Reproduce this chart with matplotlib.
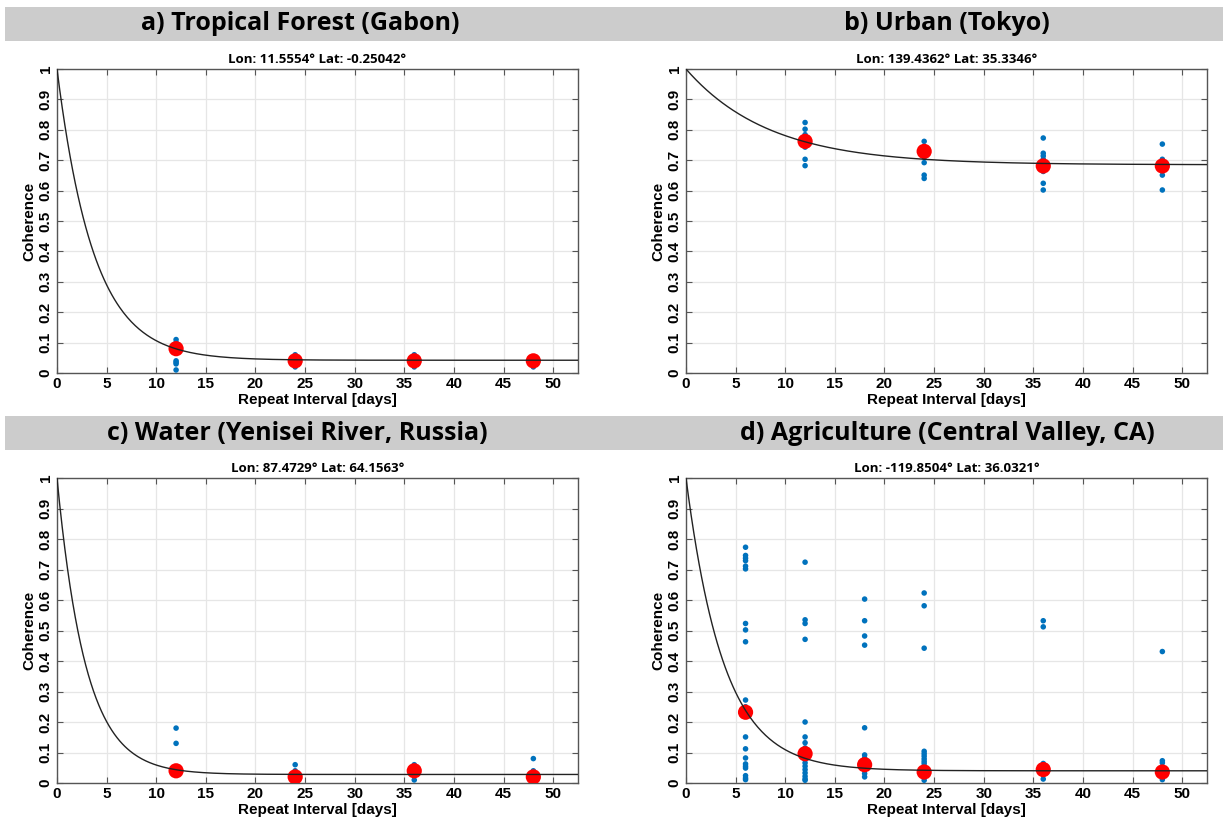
import numpy as np
import matplotlib
matplotlib.use("Agg")
import matplotlib.pyplot as plt
from matplotlib.patches import Rectangle

plt.rcParams['font.family'] = ['Liberation Sans', 'DejaVu Sans']

# panel titles and coordinates
titles = ["a) Tropical Forest (Gabon)", "b) Urban (Tokyo)",
          "c) Water (Yenisei River, Russia)", "d) Agriculture (Central Valley, CA)"]
subtitles = ["Lon: 11.5554\u00b0 Lat: -0.25042\u00b0", "Lon: 139.4362\u00b0 Lat: 35.3346\u00b0",
             "Lon: 87.4729\u00b0 Lat: 64.1563\u00b0", "Lon: -119.8504\u00b0 Lat: 36.0321\u00b0"]

# model fit parameters: long-term coherence and decay time (days)
gamma_inf = [0.042, 0.685, 0.028, 0.040]
tau = [3.7, 8.4, 2.9, 3.8]

# individual coherence samples (blue) per repeat interval
a_x = [12]*7 + [24]*5 + [36]*5 + [48]*4
a_y = [0.11, 0.10, 0.09, 0.04, 0.035, 0.03, 0.01,
       0.06, 0.05, 0.04, 0.03, 0.02,
       0.06, 0.05, 0.04, 0.03, 0.02,
       0.05, 0.04, 0.03, 0.02]
b_x = [12]*7 + [24]*5 + [36]*8 + [48]*5
b_y = [0.824, 0.802, 0.784, 0.743, 0.703, 0.682, 0.77,
       0.762, 0.692, 0.651, 0.640, 0.71,
       0.773, 0.723, 0.714, 0.703, 0.663, 0.624, 0.602, 0.69,
       0.753, 0.703, 0.651, 0.602, 0.67]
c_x = [12]*3 + [24]*4 + [36]*3 + [48]*4
c_y = [0.18, 0.13, 0.04,
       0.06, 0.04, 0.02, 0.01,
       0.06, 0.04, 0.01,
       0.08, 0.04, 0.02, 0.01]
d_x = [6]*20 + [12]*18 + [18]*11 + [24]*14 + [36]*6 + [48]*6
d_y = [0.773, 0.746, 0.737, 0.729, 0.711, 0.702, 0.523, 0.502, 0.463, 0.272,
       0.25, 0.151, 0.112, 0.082, 0.0625, 0.055, 0.049, 0.024, 0.016, 0.011,
       0.724, 0.535, 0.523, 0.471, 0.200, 0.151, 0.132, 0.115, 0.088, 0.077,
       0.066, 0.055, 0.044, 0.033, 0.022, 0.013, 0.009, 0.100,
       0.603, 0.532, 0.482, 0.452, 0.181, 0.092, 0.082, 0.070, 0.044, 0.031, 0.020,
       0.623, 0.581, 0.442, 0.104, 0.096, 0.088, 0.079, 0.071, 0.064, 0.055,
       0.044, 0.030, 0.022, 0.009,
       0.532, 0.512, 0.064, 0.050, 0.027, 0.013,
       0.431, 0.073, 0.066, 0.050, 0.022, 0.011]
samples_x = [a_x, b_x, c_x, d_x]
samples_y = [a_y, b_y, c_y, d_y]

# mean coherence (red) per interval
mean_x = [[12, 24, 36, 48], [12, 24, 36, 48], [12, 24, 36, 48], [6, 12, 18, 24, 36, 48]]
mean_y = [[0.08, 0.04, 0.04, 0.04],
          [0.762, 0.729, 0.681, 0.681],
          [0.04, 0.02, 0.04, 0.02],
          [0.232, 0.096, 0.060, 0.036, 0.044, 0.036]]

W, H = 1226, 826
fig = plt.figure(figsize=(W / 100, H / 100), dpi=100)

# grey banners behind the titles
for top in [7, 416]:
    fig.patches.append(Rectangle((5 / W, 1 - (top + 34) / H), 1218 / W, 34 / H,
                                 transform=fig.transFigure, facecolor="#cccccc",
                                 edgecolor="none", zorder=0))

lefts = [57, 686, 57, 686]
tops = [69, 69, 478, 478]
bottoms = [373, 373, 783, 783]
title_cx = [300, 947, 297, 947]
banner_cy = [24, 24, 433, 433]

blue = "#0072BD"
grid_col = "#e6e6e6"
spine_col = "#555555"

for i in range(4):
    l, t, b = lefts[i], tops[i], bottoms[i]
    ax = fig.add_axes([l / W, 1 - b / H, 521 / W, (b - t) / H])
    fig.text(title_cx[i] / W, 1 - banner_cy[i] / H, titles[i], ha="center", va="center",
             fontsize=18, fontweight="bold", family=["Open Sans", "DejaVu Sans"])

    t_fit = np.linspace(0, 52.5, 400)
    fit = (1 - gamma_inf[i]) * np.exp(-t_fit / tau[i]) + gamma_inf[i]

    ax.scatter(samples_x[i], samples_y[i], s=16, color=blue, edgecolors="none", zorder=3)
    ax.scatter(mean_x[i], mean_y[i], s=120, color="red", edgecolors="none", zorder=4)
    ax.plot(t_fit, fit, color="#222222", lw=1.0, zorder=5)

    ax.set_xlim(0, 52.5)
    ax.set_ylim(0, 1)
    ax.set_xticks(np.arange(0, 51, 5))
    ax.set_yticks(np.round(np.arange(0, 1.01, 0.1), 1))
    ax.set_yticklabels(["0"] + ["%.1f" % v for v in np.arange(0.1, 0.95, 0.1)] + ["1"],
                       rotation=90, va="center")
    ax.grid(True, color=grid_col, lw=0.9)
    ax.set_axisbelow(True)
    ax.tick_params(direction="in", top=True, right=True, length=4, width=0.8,
                   color=spine_col, labelsize=11, pad=3)
    for lab in ax.get_xticklabels() + ax.get_yticklabels():
        lab.set_fontweight("bold")
    for sp in ax.spines.values():
        sp.set_color(spine_col)
        sp.set_linewidth(1.0)
    ax.set_xlabel("Repeat Interval [days]", fontsize=11, fontweight="bold", labelpad=1)
    ax.set_ylabel("Coherence", fontsize=11, fontweight="bold", labelpad=2)
    ax.set_title(subtitles[i], fontsize=9.5, fontweight="bold", pad=4,
                 family=["Open Sans", "DejaVu Sans"])

fig.savefig("out.png", dpi=100)
